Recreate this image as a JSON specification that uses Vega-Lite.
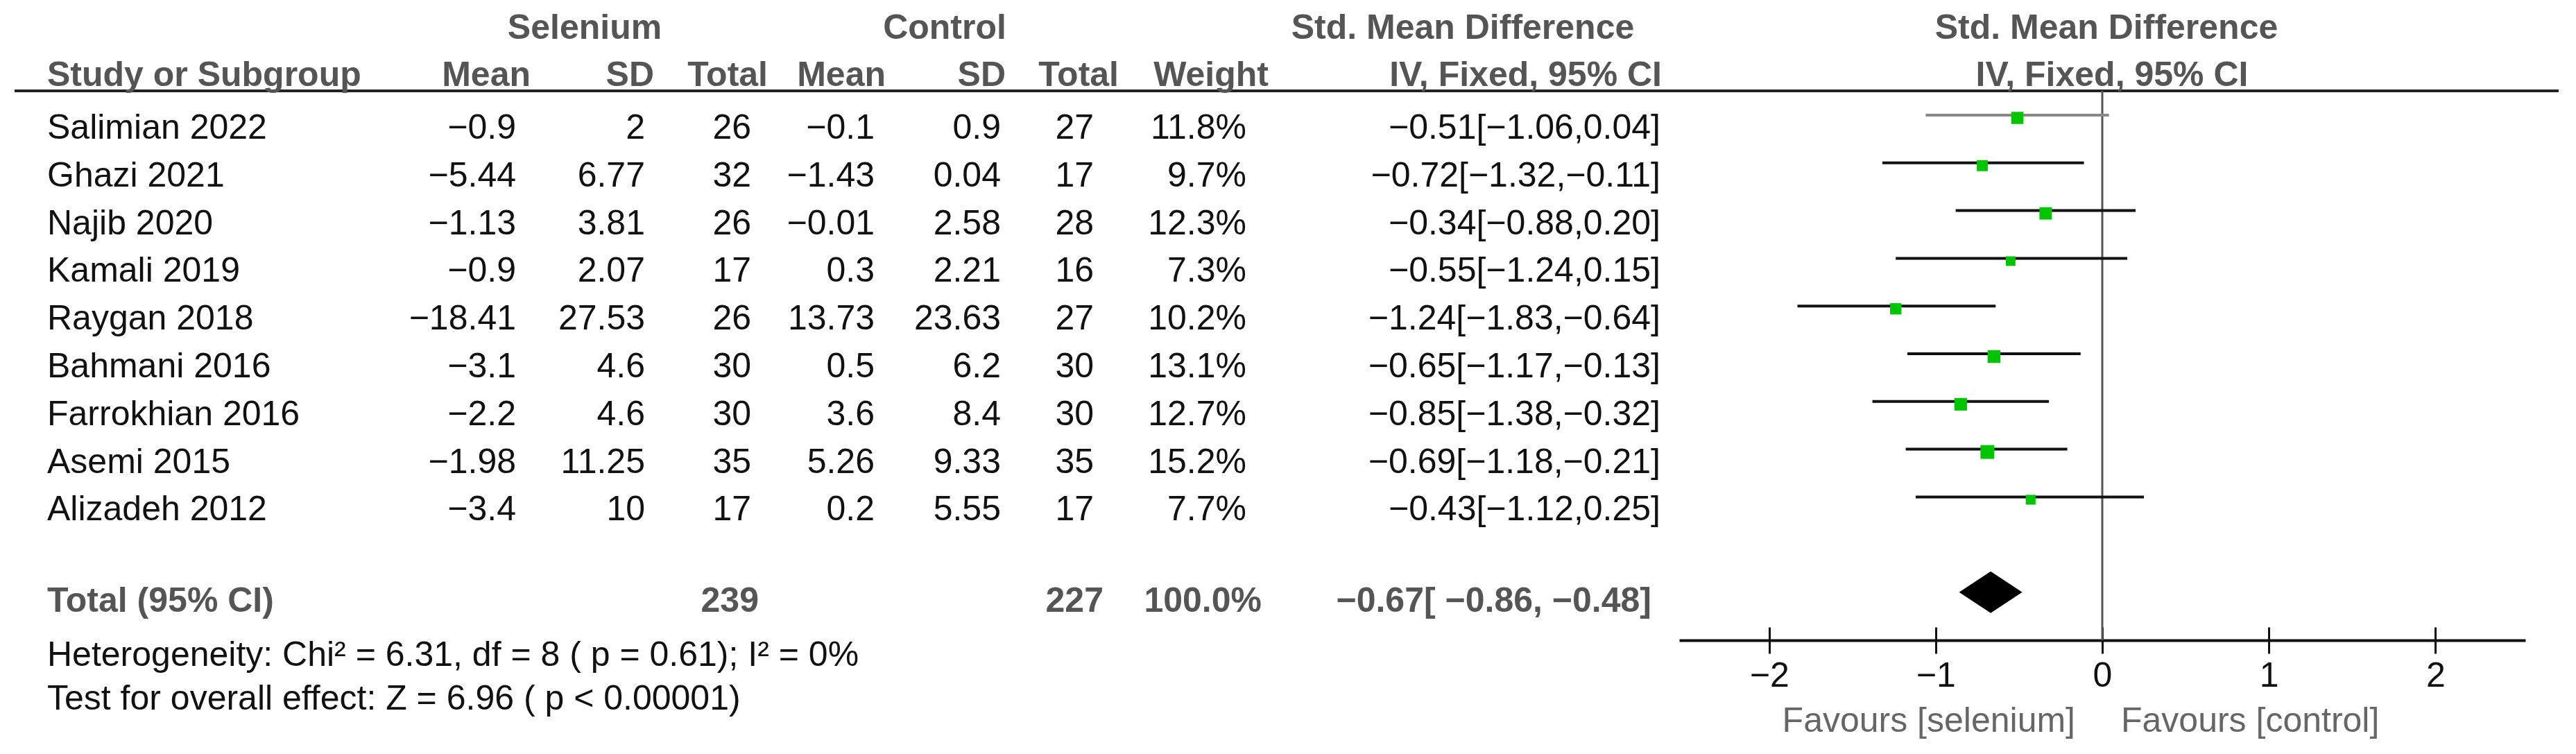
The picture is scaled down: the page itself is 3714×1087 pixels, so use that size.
{
  "$schema": "https://vega.github.io/schema/vega-lite/v6.json",
  "width": 3714,
  "height": 1087,
  "padding": 0,
  "autosize": "none",
  "background": "white",
  "config": {
    "view": {"stroke": null},
    "font": "Liberation Sans",
    "text": {"font": "Liberation Sans", "fontSize": 50, "baseline": "middle", "color": "#111"}
  },
  "datasets": {
    "studies": [
      {"study": "Salimian 2022", "smean": -0.9, "ssd": 2, "stot": 26, "cmean": -0.1, "csd": 0.9, "ctot": 27, "w": 0.118, "est": -0.51, "lo": -1.06, "hi": 0.04, "ci": "−0.51[−1.06,0.04]", "row": 2},
      {"study": "Ghazi 2021", "smean": -5.44, "ssd": 6.77, "stot": 32, "cmean": -1.43, "csd": 0.04, "ctot": 17, "w": 0.097, "est": -0.72, "lo": -1.32, "hi": -0.11, "ci": "−0.72[−1.32,−0.11]", "row": 3},
      {"study": "Najib 2020", "smean": -1.13, "ssd": 3.81, "stot": 26, "cmean": -0.01, "csd": 2.58, "ctot": 28, "w": 0.123, "est": -0.34, "lo": -0.88, "hi": 0.2, "ci": "−0.34[−0.88,0.20]", "row": 4},
      {"study": "Kamali 2019", "smean": -0.9, "ssd": 2.07, "stot": 17, "cmean": 0.3, "csd": 2.21, "ctot": 16, "w": 0.073, "est": -0.55, "lo": -1.24, "hi": 0.15, "ci": "−0.55[−1.24,0.15]", "row": 5},
      {"study": "Raygan 2018", "smean": -18.41, "ssd": 27.53, "stot": 26, "cmean": 13.73, "csd": 23.63, "ctot": 27, "w": 0.102, "est": -1.24, "lo": -1.83, "hi": -0.64, "ci": "−1.24[−1.83,−0.64]", "row": 6},
      {"study": "Bahmani 2016", "smean": -3.1, "ssd": 4.6, "stot": 30, "cmean": 0.5, "csd": 6.2, "ctot": 30, "w": 0.131, "est": -0.65, "lo": -1.17, "hi": -0.13, "ci": "−0.65[−1.17,−0.13]", "row": 7},
      {"study": "Farrokhian 2016", "smean": -2.2, "ssd": 4.6, "stot": 30, "cmean": 3.6, "csd": 8.4, "ctot": 30, "w": 0.127, "est": -0.85, "lo": -1.38, "hi": -0.32, "ci": "−0.85[−1.38,−0.32]", "row": 8},
      {"study": "Asemi 2015", "smean": -1.98, "ssd": 11.25, "stot": 35, "cmean": 5.26, "csd": 9.33, "ctot": 35, "w": 0.152, "est": -0.69, "lo": -1.18, "hi": -0.21, "ci": "−0.69[−1.18,−0.21]", "row": 9},
      {"study": "Alizadeh 2012", "smean": -3.4, "ssd": 10, "stot": 17, "cmean": 0.2, "csd": 5.55, "ctot": 17, "w": 0.077, "est": -0.43, "lo": -1.12, "hi": 0.25, "ci": "−0.43[−1.12,0.25]", "row": 10}
    ],
    "total": [
      {"label": "Total (95% CI)", "stot": 239, "ctot": 227, "w": 1, "est": -0.67, "lo": -0.86, "hi": -0.48, "ci": "−0.67[ −0.86, −0.48]", "row": 11.91}
    ]
  },
  "layer": [
    {
      "layer": [
        {"data": {"values": [{}]}, "mark": {"type": "rule", "stroke": "#222", "strokeWidth": 4},
         "encoding": {"x": {"datum": 21, "type": "quantitative", "scale": {"domain": [0, 3714], "range": [0, 3714], "nice": false, "zero": false}, "axis": null}, "x2": {"datum": 3689},
                      "y": {"datum": 1.215, "type": "quantitative", "scale": {"domain": [-0.689, 15.11], "range": [0, 1087], "nice": false, "zero": false}, "axis": null}}},
        {"data": {"values": [{}]}, "mark": {"type": "text", "text": "Selenium", "align": "center", "fontWeight": "bold", "color": "#555"},
         "encoding": {"x": {"datum": 843, "type": "quantitative", "scale": {"domain": [0, 3714], "range": [0, 3714], "nice": false, "zero": false}, "axis": null},
                      "y": {"datum": -0.1, "type": "quantitative", "scale": {"domain": [-0.689, 15.11], "range": [0, 1087], "nice": false, "zero": false}, "axis": null}}},
        {"data": {"values": [{}]}, "mark": {"type": "text", "text": "Control", "align": "center", "fontWeight": "bold", "color": "#555"},
         "encoding": {"x": {"datum": 1362, "type": "quantitative", "scale": {"domain": [0, 3714], "range": [0, 3714], "nice": false, "zero": false}, "axis": null},
                      "y": {"datum": -0.1, "type": "quantitative", "scale": {"domain": [-0.689, 15.11], "range": [0, 1087], "nice": false, "zero": false}, "axis": null}}},
        {"data": {"values": [{}]}, "mark": {"type": "text", "text": "Std. Mean Difference", "align": "center", "fontWeight": "bold", "color": "#555"},
         "encoding": {"x": {"datum": 2109, "type": "quantitative", "scale": {"domain": [0, 3714], "range": [0, 3714], "nice": false, "zero": false}, "axis": null},
                      "y": {"datum": -0.1, "type": "quantitative", "scale": {"domain": [-0.689, 15.11], "range": [0, 1087], "nice": false, "zero": false}, "axis": null}}},
        {"data": {"values": [{}]}, "mark": {"type": "text", "text": "Study or Subgroup", "align": "left", "fontWeight": "bold", "color": "#555"},
         "encoding": {"x": {"datum": 68, "type": "quantitative", "scale": {"domain": [0, 3714], "range": [0, 3714], "nice": false, "zero": false}, "axis": null},
                      "y": {"datum": 0.9, "type": "quantitative", "scale": {"domain": [-0.689, 15.11], "range": [0, 1087], "nice": false, "zero": false}, "axis": null}}},
        {"data": {"values": [{}]}, "mark": {"type": "text", "text": "Mean", "align": "right", "fontWeight": "bold", "color": "#555"},
         "encoding": {"x": {"datum": 765, "type": "quantitative", "scale": {"domain": [0, 3714], "range": [0, 3714], "nice": false, "zero": false}, "axis": null},
                      "y": {"datum": 0.9, "type": "quantitative", "scale": {"domain": [-0.689, 15.11], "range": [0, 1087], "nice": false, "zero": false}, "axis": null}}},
        {"data": {"values": [{}]}, "mark": {"type": "text", "text": "SD", "align": "right", "fontWeight": "bold", "color": "#555"},
         "encoding": {"x": {"datum": 943, "type": "quantitative", "scale": {"domain": [0, 3714], "range": [0, 3714], "nice": false, "zero": false}, "axis": null},
                      "y": {"datum": 0.9, "type": "quantitative", "scale": {"domain": [-0.689, 15.11], "range": [0, 1087], "nice": false, "zero": false}, "axis": null}}},
        {"data": {"values": [{}]}, "mark": {"type": "text", "text": "Total", "align": "right", "fontWeight": "bold", "color": "#555"},
         "encoding": {"x": {"datum": 1107, "type": "quantitative", "scale": {"domain": [0, 3714], "range": [0, 3714], "nice": false, "zero": false}, "axis": null},
                      "y": {"datum": 0.9, "type": "quantitative", "scale": {"domain": [-0.689, 15.11], "range": [0, 1087], "nice": false, "zero": false}, "axis": null}}},
        {"data": {"values": [{}]}, "mark": {"type": "text", "text": "Mean", "align": "right", "fontWeight": "bold", "color": "#555"},
         "encoding": {"x": {"datum": 1277, "type": "quantitative", "scale": {"domain": [0, 3714], "range": [0, 3714], "nice": false, "zero": false}, "axis": null},
                      "y": {"datum": 0.9, "type": "quantitative", "scale": {"domain": [-0.689, 15.11], "range": [0, 1087], "nice": false, "zero": false}, "axis": null}}},
        {"data": {"values": [{}]}, "mark": {"type": "text", "text": "SD", "align": "right", "fontWeight": "bold", "color": "#555"},
         "encoding": {"x": {"datum": 1450, "type": "quantitative", "scale": {"domain": [0, 3714], "range": [0, 3714], "nice": false, "zero": false}, "axis": null},
                      "y": {"datum": 0.9, "type": "quantitative", "scale": {"domain": [-0.689, 15.11], "range": [0, 1087], "nice": false, "zero": false}, "axis": null}}},
        {"data": {"values": [{}]}, "mark": {"type": "text", "text": "Total", "align": "right", "fontWeight": "bold", "color": "#555"},
         "encoding": {"x": {"datum": 1613, "type": "quantitative", "scale": {"domain": [0, 3714], "range": [0, 3714], "nice": false, "zero": false}, "axis": null},
                      "y": {"datum": 0.9, "type": "quantitative", "scale": {"domain": [-0.689, 15.11], "range": [0, 1087], "nice": false, "zero": false}, "axis": null}}},
        {"data": {"values": [{}]}, "mark": {"type": "text", "text": "Weight", "align": "right", "fontWeight": "bold", "color": "#555"},
         "encoding": {"x": {"datum": 1829, "type": "quantitative", "scale": {"domain": [0, 3714], "range": [0, 3714], "nice": false, "zero": false}, "axis": null},
                      "y": {"datum": 0.9, "type": "quantitative", "scale": {"domain": [-0.689, 15.11], "range": [0, 1087], "nice": false, "zero": false}, "axis": null}}},
        {"data": {"values": [{}]}, "mark": {"type": "text", "text": "IV, Fixed, 95% CI", "align": "right", "fontWeight": "bold", "color": "#555"},
         "encoding": {"x": {"datum": 2396, "type": "quantitative", "scale": {"domain": [0, 3714], "range": [0, 3714], "nice": false, "zero": false}, "axis": null},
                      "y": {"datum": 0.9, "type": "quantitative", "scale": {"domain": [-0.689, 15.11], "range": [0, 1087], "nice": false, "zero": false}, "axis": null}}},
        {"data": {"name": "studies"}, "mark": {"type": "text", "align": "left"},
         "encoding": {"text": {"field": "study"}, "x": {"datum": 68, "type": "quantitative", "scale": {"domain": [0, 3714], "range": [0, 3714], "nice": false, "zero": false}, "axis": null},
                      "y": {"field": "row", "type": "quantitative", "scale": {"domain": [-0.689, 15.11], "range": [0, 1087], "nice": false, "zero": false}, "axis": null}}},
        {"data": {"name": "studies"}, "mark": {"type": "text", "align": "right"},
         "encoding": {"text": {"field": "smean", "format": ".2~f"}, "x": {"datum": 744, "type": "quantitative", "scale": {"domain": [0, 3714], "range": [0, 3714], "nice": false, "zero": false}, "axis": null},
                      "y": {"field": "row", "type": "quantitative", "scale": {"domain": [-0.689, 15.11], "range": [0, 1087], "nice": false, "zero": false}, "axis": null}}},
        {"data": {"name": "studies"}, "mark": {"type": "text", "align": "right"},
         "encoding": {"text": {"field": "ssd", "format": ".2~f"}, "x": {"datum": 930, "type": "quantitative", "scale": {"domain": [0, 3714], "range": [0, 3714], "nice": false, "zero": false}, "axis": null},
                      "y": {"field": "row", "type": "quantitative", "scale": {"domain": [-0.689, 15.11], "range": [0, 1087], "nice": false, "zero": false}, "axis": null}}},
        {"data": {"name": "studies"}, "mark": {"type": "text", "align": "right"},
         "encoding": {"text": {"field": "stot", "format": "d"}, "x": {"datum": 1083, "type": "quantitative", "scale": {"domain": [0, 3714], "range": [0, 3714], "nice": false, "zero": false}, "axis": null},
                      "y": {"field": "row", "type": "quantitative", "scale": {"domain": [-0.689, 15.11], "range": [0, 1087], "nice": false, "zero": false}, "axis": null}}},
        {"data": {"name": "studies"}, "mark": {"type": "text", "align": "right"},
         "encoding": {"text": {"field": "cmean", "format": ".2~f"}, "x": {"datum": 1261, "type": "quantitative", "scale": {"domain": [0, 3714], "range": [0, 3714], "nice": false, "zero": false}, "axis": null},
                      "y": {"field": "row", "type": "quantitative", "scale": {"domain": [-0.689, 15.11], "range": [0, 1087], "nice": false, "zero": false}, "axis": null}}},
        {"data": {"name": "studies"}, "mark": {"type": "text", "align": "right"},
         "encoding": {"text": {"field": "csd", "format": ".2~f"}, "x": {"datum": 1443, "type": "quantitative", "scale": {"domain": [0, 3714], "range": [0, 3714], "nice": false, "zero": false}, "axis": null},
                      "y": {"field": "row", "type": "quantitative", "scale": {"domain": [-0.689, 15.11], "range": [0, 1087], "nice": false, "zero": false}, "axis": null}}},
        {"data": {"name": "studies"}, "mark": {"type": "text", "align": "right"},
         "encoding": {"text": {"field": "ctot", "format": "d"}, "x": {"datum": 1577, "type": "quantitative", "scale": {"domain": [0, 3714], "range": [0, 3714], "nice": false, "zero": false}, "axis": null},
                      "y": {"field": "row", "type": "quantitative", "scale": {"domain": [-0.689, 15.11], "range": [0, 1087], "nice": false, "zero": false}, "axis": null}}},
        {"data": {"name": "studies"}, "mark": {"type": "text", "align": "right"},
         "encoding": {"text": {"field": "w", "format": ".1%"}, "x": {"datum": 1797, "type": "quantitative", "scale": {"domain": [0, 3714], "range": [0, 3714], "nice": false, "zero": false}, "axis": null},
                      "y": {"field": "row", "type": "quantitative", "scale": {"domain": [-0.689, 15.11], "range": [0, 1087], "nice": false, "zero": false}, "axis": null}}},
        {"data": {"name": "studies"}, "mark": {"type": "text", "align": "right"},
         "encoding": {"text": {"field": "ci"}, "x": {"datum": 2394, "type": "quantitative", "scale": {"domain": [0, 3714], "range": [0, 3714], "nice": false, "zero": false}, "axis": null},
                      "y": {"field": "row", "type": "quantitative", "scale": {"domain": [-0.689, 15.11], "range": [0, 1087], "nice": false, "zero": false}, "axis": null}}},
        {"data": {"name": "total"}, "mark": {"type": "text", "align": "left", "fontWeight": "bold", "color": "#555"},
         "encoding": {"text": {"field": "label"}, "x": {"datum": 68, "type": "quantitative", "scale": {"domain": [0, 3714], "range": [0, 3714], "nice": false, "zero": false}, "axis": null},
                      "y": {"field": "row", "type": "quantitative", "scale": {"domain": [-0.689, 15.11], "range": [0, 1087], "nice": false, "zero": false}, "axis": null}}},
        {"data": {"name": "total"}, "mark": {"type": "text", "align": "right", "fontWeight": "bold", "color": "#555"},
         "encoding": {"text": {"field": "stot", "format": "d"}, "x": {"datum": 1094, "type": "quantitative", "scale": {"domain": [0, 3714], "range": [0, 3714], "nice": false, "zero": false}, "axis": null},
                      "y": {"field": "row", "type": "quantitative", "scale": {"domain": [-0.689, 15.11], "range": [0, 1087], "nice": false, "zero": false}, "axis": null}}},
        {"data": {"name": "total"}, "mark": {"type": "text", "align": "right", "fontWeight": "bold", "color": "#555"},
         "encoding": {"text": {"field": "ctot", "format": "d"}, "x": {"datum": 1591, "type": "quantitative", "scale": {"domain": [0, 3714], "range": [0, 3714], "nice": false, "zero": false}, "axis": null},
                      "y": {"field": "row", "type": "quantitative", "scale": {"domain": [-0.689, 15.11], "range": [0, 1087], "nice": false, "zero": false}, "axis": null}}},
        {"data": {"name": "total"}, "mark": {"type": "text", "align": "right", "fontWeight": "bold", "color": "#555"},
         "encoding": {"text": {"field": "w", "format": ".1%"}, "x": {"datum": 1819, "type": "quantitative", "scale": {"domain": [0, 3714], "range": [0, 3714], "nice": false, "zero": false}, "axis": null},
                      "y": {"field": "row", "type": "quantitative", "scale": {"domain": [-0.689, 15.11], "range": [0, 1087], "nice": false, "zero": false}, "axis": null}}},
        {"data": {"name": "total"}, "mark": {"type": "text", "align": "right", "fontWeight": "bold", "color": "#555"},
         "encoding": {"text": {"field": "ci"}, "x": {"datum": 2381, "type": "quantitative", "scale": {"domain": [0, 3714], "range": [0, 3714], "nice": false, "zero": false}, "axis": null},
                      "y": {"field": "row", "type": "quantitative", "scale": {"domain": [-0.689, 15.11], "range": [0, 1087], "nice": false, "zero": false}, "axis": null}}},
        {"data": {"values": [{}]}, "mark": {"type": "text", "text": "Heterogeneity: Chi² = 6.31, df = 8 ( p = 0.61); I² = 0%", "align": "left"},
         "encoding": {"x": {"datum": 68, "type": "quantitative", "scale": {"domain": [0, 3714], "range": [0, 3714], "nice": false, "zero": false}, "axis": null},
                      "y": {"datum": 13.05, "type": "quantitative", "scale": {"domain": [-0.689, 15.11], "range": [0, 1087], "nice": false, "zero": false}, "axis": null}}},
        {"data": {"values": [{}]}, "mark": {"type": "text", "text": "Test for overall effect: Z = 6.96 ( p < 0.00001)", "align": "left"},
         "encoding": {"x": {"datum": 68, "type": "quantitative", "scale": {"domain": [0, 3714], "range": [0, 3714], "nice": false, "zero": false}, "axis": null},
                      "y": {"datum": 13.96, "type": "quantitative", "scale": {"domain": [-0.689, 15.11], "range": [0, 1087], "nice": false, "zero": false}, "axis": null}}}
      ]
    },
    {
      "layer": [
        {"data": {"values": [{}]}, "mark": {"type": "rule", "stroke": "#555", "strokeWidth": 3},
         "encoding": {"x": {"datum": 0, "type": "quantitative", "scale": {"domain": [-2.54, 2.54], "range": [2421, 3641], "nice": false, "zero": false},
                            "axis": {"orient": "top", "offset": -923, "values": [-2, -1, 0, 1, 2], "labels": false, "domain": false, "ticks": true, "tickSize": 19, "tickWidth": 3, "tickColor": "#111", "grid": false, "title": null}},
                      "y": {"datum": 1.215, "type": "quantitative", "scale": {"domain": [-0.689, 15.11], "range": [0, 1087], "nice": false, "zero": false}, "axis": null},
                      "y2": {"datum": 12.727}}},
        {"data": {"name": "studies"}, "mark": {"type": "rule", "strokeWidth": 4, "yOffset": -19},
         "encoding": {"x": {"field": "lo", "type": "quantitative", "scale": {"domain": [-2.54, 2.54], "range": [2421, 3641], "nice": false, "zero": false},
                            "axis": {"orient": "bottom", "offset": -164, "values": [-2, -1, 0, 1, 2], "title": null, "grid": false, "domainColor": "#111", "domainWidth": 4, "tickColor": "#111", "tickWidth": 3, "tickSize": 19, "labelFontSize": 50, "labelFont": "Liberation Sans", "labelColor": "#111", "labelPadding": 7}},
                      "x2": {"field": "hi"},
                      "y": {"field": "row", "type": "quantitative", "scale": {"domain": [-0.689, 15.11], "range": [0, 1087], "nice": false, "zero": false}, "axis": null},
                      "color": {"condition": {"test": "datum.study === 'Salimian 2022'", "value": "#888"}, "value": "#111"}}},
        {"data": {"name": "studies"}, "mark": {"type": "point", "shape": "square", "filled": true, "color": "#00c400", "opacity": 1, "strokeWidth": 0, "yOffset": -15},
         "encoding": {"x": {"field": "est", "type": "quantitative", "scale": {"domain": [-2.54, 2.54], "range": [2421, 3641], "nice": false, "zero": false}, "axis": null},
                      "y": {"field": "row", "type": "quantitative", "scale": {"domain": [-0.689, 15.11], "range": [0, 1087], "nice": false, "zero": false}, "axis": null},
                      "size": {"field": "w", "type": "quantitative", "scale": {"domain": [0, 0.2], "range": [0, 520]}, "legend": null}}},
        {"data": {"name": "total"}, "mark": {"type": "point", "shape": "M-1,0L0,-0.66L1,0L0,0.66Z", "filled": true, "color": "#000", "opacity": 1, "strokeWidth": 0, "size": 8281, "yOffset": -13},
         "encoding": {"x": {"field": "est", "type": "quantitative", "scale": {"domain": [-2.54, 2.54], "range": [2421, 3641], "nice": false, "zero": false}, "axis": null},
                      "y": {"field": "row", "type": "quantitative", "scale": {"domain": [-0.689, 15.11], "range": [0, 1087], "nice": false, "zero": false}, "axis": null}}},
        {"data": {"values": [{}]}, "mark": {"type": "text", "text": "Std. Mean Difference", "align": "center", "fontWeight": "bold", "color": "#555", "dx": 6},
         "encoding": {"x": {"datum": 0, "type": "quantitative", "scale": {"domain": [-2.54, 2.54], "range": [2421, 3641], "nice": false, "zero": false}, "axis": null},
                      "y": {"datum": -0.1, "type": "quantitative", "scale": {"domain": [-0.689, 15.11], "range": [0, 1087], "nice": false, "zero": false}, "axis": null}}},
        {"data": {"values": [{}]}, "mark": {"type": "text", "text": "IV, Fixed, 95% CI", "align": "center", "fontWeight": "bold", "color": "#555", "dx": 14},
         "encoding": {"x": {"datum": 0, "type": "quantitative", "scale": {"domain": [-2.54, 2.54], "range": [2421, 3641], "nice": false, "zero": false}, "axis": null},
                      "y": {"datum": 0.9, "type": "quantitative", "scale": {"domain": [-0.689, 15.11], "range": [0, 1087], "nice": false, "zero": false}, "axis": null}}},
        {"data": {"values": [{}]}, "mark": {"type": "text", "text": "Favours [selenium]", "align": "right", "color": "#666", "dx": -39},
         "encoding": {"x": {"datum": 0, "type": "quantitative", "scale": {"domain": [-2.54, 2.54], "range": [2421, 3641], "nice": false, "zero": false}, "axis": null},
                      "y": {"datum": 14.43, "type": "quantitative", "scale": {"domain": [-0.689, 15.11], "range": [0, 1087], "nice": false, "zero": false}, "axis": null}}},
        {"data": {"values": [{}]}, "mark": {"type": "text", "text": "Favours [control]", "align": "left", "color": "#666", "dx": 27},
         "encoding": {"x": {"datum": 0, "type": "quantitative", "scale": {"domain": [-2.54, 2.54], "range": [2421, 3641], "nice": false, "zero": false}, "axis": null},
                      "y": {"datum": 14.43, "type": "quantitative", "scale": {"domain": [-0.689, 15.11], "range": [0, 1087], "nice": false, "zero": false}, "axis": null}}}
      ],
      "resolve": {"axis": {"x": "independent"}}
    }
  ],
  "resolve": {"scale": {"x": "independent"}, "axis": {"x": "independent"}}
}
